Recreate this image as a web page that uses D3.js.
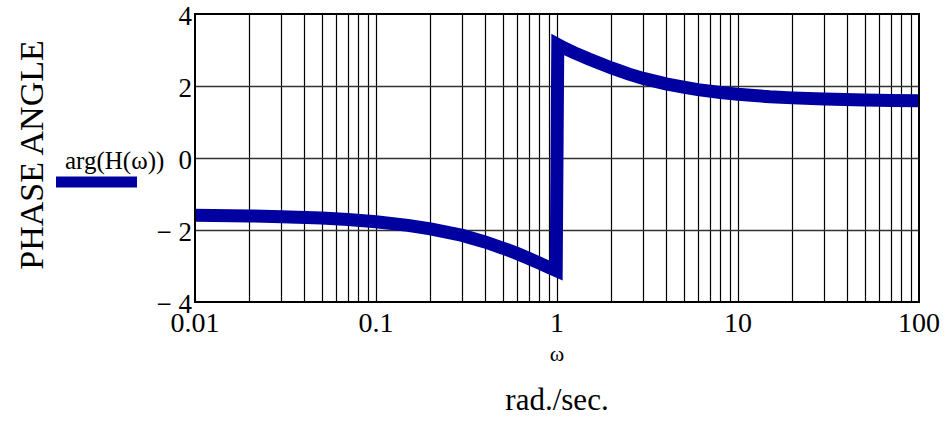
<!DOCTYPE html>
<html>
<head>
<meta charset="utf-8">
<script src="https://cdn.jsdelivr.net/npm/d3@7"></script>
<style>
  body { margin: 0; background: #fff; }
  text { font-family: "Liberation Serif", "Times New Roman", serif; fill: #000; }
</style>
</head>
<body>
<div id="chart"></div>
<script>
// frequency (rad/sec) and phase (rad)
var omega = [0.01, 0.02, 0.03, 0.05, 0.07, 0.1, 0.15, 0.2, 0.3, 0.4, 0.5, 0.6, 0.7, 0.8, 0.9, 0.99,
             1.01, 1.1, 1.25, 1.5, 2, 2.5, 3, 4, 5, 6, 8, 10, 15, 20, 30, 50, 70, 100];
var phase = [-1.59, -1.61, -1.63, -1.67, -1.71, -1.77, -1.87, -1.97, -2.15, -2.33, -2.50, -2.65, -2.79, -2.92, -3.04, -3.13,
             3.15, 3.05, 2.92, 2.75, 2.50, 2.33, 2.21, 2.06, 1.97, 1.90, 1.82, 1.77, 1.70, 1.67, 1.64, 1.61, 1.60, 1.59];

var yTicks = [4, 2, 0, -2, -4];
var xTicks = [0.01, 0.1, 1, 10, 100];
var xTickLabels = ["0.01", "0.1", "1", "10", "100"];
var yDomain = [-4, 4];
var xDomain = [0.01, 100];

var width = 948,
    height = 434,
    margin = {left: 195, right: 29, top: 14, bottom: 132};

var svg = d3.select("#chart").append("svg")
    .attr("width", width)
    .attr("height", height);

var x = d3.scaleLog().domain(xDomain).range([margin.left, width - margin.right]),
    y = d3.scaleLinear().domain(yDomain).range([height - margin.bottom, margin.top]);

// vertical grid: every 1..9 of each decade
var xGrid = x.ticks().filter(function (d) { return d > xDomain[0] && d < xDomain[1]; });
svg.append("g")
  .selectAll("line")
  .data(xGrid)
  .enter().append("line")
    .attr("x1", function (d) { return Math.round(x(d)) + 0.5; })
    .attr("x2", function (d) { return Math.round(x(d)) + 0.5; })
    .attr("y1", y(yDomain[1]))
    .attr("y2", y(yDomain[0]))
    .attr("stroke", "#000")
    .attr("stroke-width", 1.2);

// horizontal grid
svg.append("g")
  .selectAll("line")
  .data(yTicks.filter(function (d) { return d > yDomain[0] && d < yDomain[1]; }))
  .enter().append("line")
    .attr("x1", x(xDomain[0]))
    .attr("x2", x(xDomain[1]))
    .attr("y1", function (d) { return Math.round(y(d)) + 0.5; })
    .attr("y2", function (d) { return Math.round(y(d)) + 0.5; })
    .attr("stroke", "#333")
    .attr("stroke-width", 1.4);

// the curve
var pts = omega.map(function (w, i) { return [w, phase[i]]; });
var line = d3.line()
    .x(function (d) { return x(d[0]); })
    .y(function (d) { return y(d[1]); });

svg.append("path")
    .datum(pts)
    .attr("d", line)
    .attr("fill", "none")
    .attr("stroke", "#0000a0")
    .attr("stroke-width", 13)
    .attr("stroke-linejoin", "miter")
    .attr("stroke-linecap", "butt");

// frame
svg.append("rect")
    .attr("x", x(xDomain[0]))
    .attr("y", y(yDomain[1]))
    .attr("width", x(xDomain[1]) - x(xDomain[0]))
    .attr("height", y(yDomain[0]) - y(yDomain[1]))
    .attr("fill", "none")
    .attr("stroke", "#000")
    .attr("stroke-width", 2);

// y tick labels
svg.append("g")
  .selectAll("text")
  .data(yTicks)
  .enter().append("text")
    .attr("x", margin.left - 3)
    .attr("y", function (d) { return y(d) + 11; })
    .attr("text-anchor", "end")
    .style("font-size", "27px")
    .text(function (d) { return d < 0 ? "\u2212 " + (-d) : d; });

// x tick labels
svg.append("g")
  .selectAll("text")
  .data(xTicks)
  .enter().append("text")
    .attr("x", function (d) { return x(d); })
    .attr("y", y(yDomain[0]) + 30)
    .attr("text-anchor", "middle")
    .style("font-size", "28px")
    .text(function (d, i) { return xTickLabels[i]; });

// axis titles
svg.append("text")
    .attr("x", x(1))
    .attr("y", 361)
    .attr("text-anchor", "middle")
    .style("font-size", "22px")
    .text("\u03c9");

svg.append("text")
    .attr("x", x(1))
    .attr("y", 410)
    .attr("text-anchor", "middle")
    .style("font-size", "31px")
    .text("rad./sec.");

svg.append("text")
    .attr("transform", "translate(43,155) rotate(-90)")
    .attr("text-anchor", "middle")
    .style("font-size", "34px")
    .text("PHASE ANGLE");

// legend
svg.append("text")
    .attr("x", 65)
    .attr("y", 169)
    .style("font-size", "25px")
    .text("arg(H(\u03c9))");

svg.append("line")
    .attr("x1", 56)
    .attr("x2", 137)
    .attr("y1", 182)
    .attr("y2", 182)
    .attr("stroke", "#0000a0")
    .attr("stroke-width", 11);
</script>
</body>
</html>
